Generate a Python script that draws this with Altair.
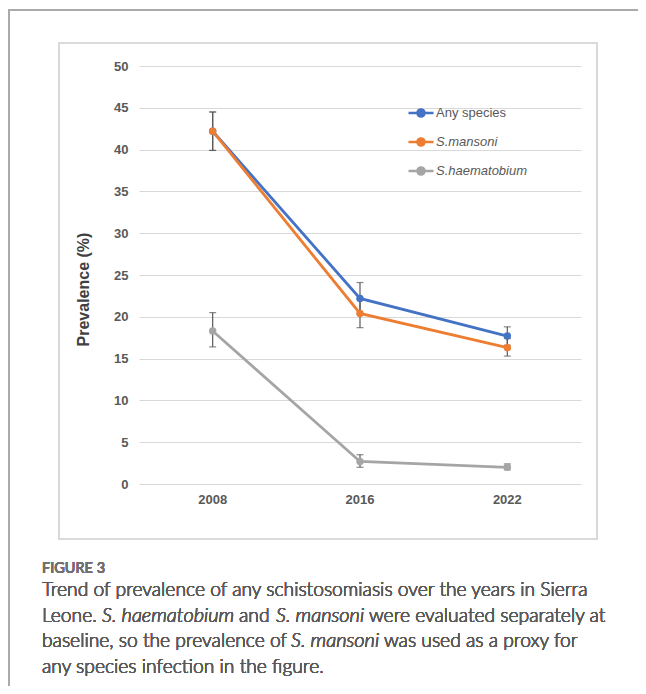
import altair as alt
import pandas as pd

years = ["2008", "2016", "2022"]
series_names = ["Any species", "S.mansoni", "S.haematobium"]
any_species = [42.2, 22.2, 17.7]
mansoni = [42.2, 20.4, 16.3]
haematobium = [18.3, 2.7, 2.0]
any_low = [39.9, 20.3, 16.6]
any_high = [44.5, 24.1, 18.8]
man_low = [39.9, 18.7, 15.3]
man_high = [44.5, 22.1, 17.4]
hae_low = [16.4, 2.0, 1.7]
hae_high = [20.5, 3.5, 2.4]
colors = ["#4472C4", "#ED7D31", "#A5A5A5"]
y_ticks = [0, 5, 10, 15, 20, 25, 30, 35, 40, 45, 50]

caption_head = "FIGURE 3"
caption_runs = [
    # (line index, text, italic, x in page px)
    (0, "Trend of prevalence of any schistosomiasis over the years in Sierra", False, 42),
    (1, "Leone.", False, 42),
    (1, "S. haematobium", True, 102),
    (1, "and", False, 239),
    (1, "S. mansoni", True, 276),
    (1, "were evaluated separately at", False, 369),
    (2, "baseline, so the prevalence of", False, 42),
    (2, "S. mansoni", True, 291),
    (2, "was used as a proxy for", False, 384),
    (3, "any species infection in the figure.", False, 42),
]

rows = []
for name, vals, lo, hi in [
    ("Any species", any_species, any_low, any_high),
    ("S.mansoni", mansoni, man_low, man_high),
    ("S.haematobium", haematobium, hae_low, hae_high),
]:
    for i, yr in enumerate(years):
        rows.append({"year": yr, "series": name, "value": vals[i], "low": lo[i], "high": hi[i]})
df = pd.DataFrame(rows)

W, H = 442, 418
OX, OY = 139, 66  # page position of plot origin

xenc = alt.X("year:N", sort=years,
             scale=alt.Scale(paddingInner=0, paddingOuter=0),
             axis=alt.Axis(title=None, labelAngle=0, domain=False, ticks=False,
                           labelFont="Liberation Sans", labelFontSize=13, labelFontWeight="bold",
                           labelColor="#595959", labelPadding=9))
yenc_scale = alt.Scale(domain=[0, 50], nice=False)
color = alt.Color("series:N", sort=series_names,
                  scale=alt.Scale(domain=series_names, range=colors),
                  legend=alt.Legend(
                      title=None, orient="none", legendX=407 - OX, legendY=99 - OY,
                      padding=0, rowPadding=6,
                      symbolType="M-1,0L1,0M-0.28,0A0.28,0.28,0,1,0,0.28,0A0.28,0.28,0,1,0,-0.28,0Z",
                      symbolSize=625, symbolStrokeWidth=2.6, labelOffset=1,
                      labelFont="Liberation Sans", labelFontSize=13, labelColor="#595959",
                      labelFontStyle=alt.ExprRef(expr="datum.label == 'Any species' ? 'normal' : 'italic'")))

base = alt.Chart(df)

frame_box = base.mark_rect(fill=None, stroke="#d9d9d9", strokeWidth=1.2).encode(
    x=alt.value(59 - OX), x2=alt.value(597 - OX),
    y=alt.value(43 - OY), y2=alt.value(539 - OY))
page_top = base.mark_rule(color="#aaaaaa", strokeWidth=2).encode(
    x=alt.value(8 - OX), x2=alt.value(646 - OX), y=alt.value(10 - OY))
page_left = base.mark_rule(color="#aaaaaa", strokeWidth=2).encode(
    x=alt.value(8.5 - OX), y=alt.value(10 - OY), y2=alt.value(694 - OY))

grid = base.mark_line(opacity=0).encode(
    x=xenc,
    y=alt.Y("value:Q", scale=yenc_scale,
            axis=alt.Axis(values=y_ticks, title="Prevalence (%)", domain=False, ticks=False,
                          grid=True, gridColor="#d9d9d9", gridWidth=1,
                          labelFont="Liberation Sans", labelFontSize=13, labelFontWeight="bold",
                          labelColor="#595959", labelPadding=11,
                          titleFont="Liberation Sans", titleFontSize=16, titleFontWeight="bold",
                          titleColor="#404040", titleX=83.5 - OX, titleY=289 - OY,
                          titleBaseline="middle", titleAngle=-90, titleAlign="center")),
)

err_rule = base.mark_rule(color="#595959", strokeWidth=1.2).encode(
    x=xenc, y=alt.Y("low:Q", scale=yenc_scale), y2="high:Q")
err_lo = base.mark_tick(color="#595959", thickness=1.2, size=7, orient="horizontal").encode(
    x=xenc, y=alt.Y("low:Q", scale=yenc_scale))
err_hi = base.mark_tick(color="#595959", thickness=1.2, size=7, orient="horizontal").encode(
    x=xenc, y=alt.Y("high:Q", scale=yenc_scale))

lines = base.mark_line(strokeWidth=2.8).encode(
    x=xenc, y=alt.Y("value:Q", scale=yenc_scale), color=color,
    order=alt.Order("year:N"))
points = base.mark_point(filled=True, size=55, opacity=1).encode(
    x=xenc, y=alt.Y("value:Q", scale=yenc_scale), color=color)

layers = [frame_box, page_top, page_left, grid, err_rule, err_lo, err_hi, lines, points]

layers.append(base.mark_text(text=caption_head, align="left", baseline="alphabetic",
                             font="Lato", fontSize=14.5, fontWeight=400, color="#707070").encode(
    x=alt.value(42 - OX), y=alt.value(573 - OY)))
line_baselines = [596, 621.5, 647, 672.5]
for li, txt, ital, px in caption_runs:
    layers.append(base.mark_text(text=txt, align="left", baseline="alphabetic",
                                 font="Lato", fontSize=20 if ital else 19.25, fontWeight=300,
                                 fontStyle="italic" if ital else "normal",
                                 color="#5a5a5a").encode(
        x=alt.value(px - OX), y=alt.value(line_baselines[li] - OY)))

chart = alt.layer(*layers).properties(
    width=W, height=H,
    autosize=alt.AutoSizeParams(type="none"),
    padding={"left": OX - 8, "top": OY - 8, "right": 630 - (OX - 8) - W, "bottom": 678 - (OY - 8) - H},
    background="white",
).configure_view(stroke=None)

chart.save("out.html", embed_options={"renderer": "svg", "actions": False})
